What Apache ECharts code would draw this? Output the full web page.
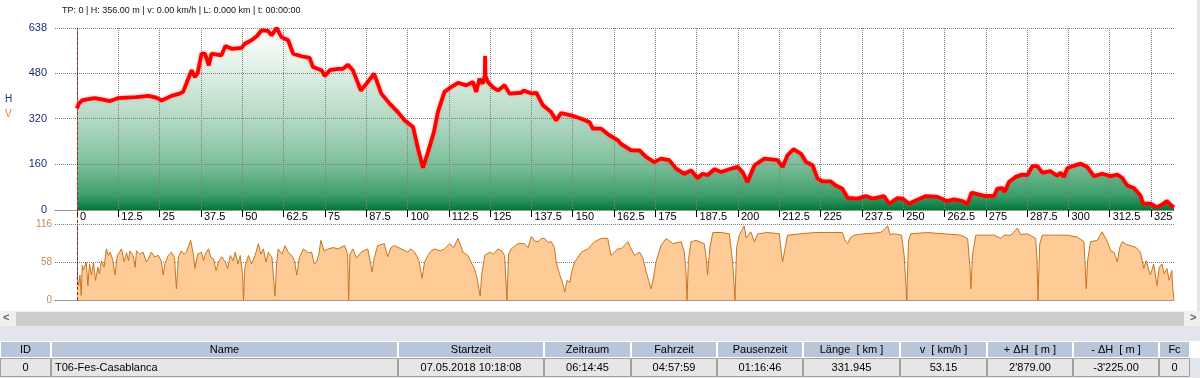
<!DOCTYPE html>
<html><head><meta charset="utf-8">
<script src="https://cdn.jsdelivr.net/npm/echarts@6/dist/echarts.min.js"></script>
<style>html,body{margin:0;padding:0;background:#fff;overflow:hidden}#c{width:1200px;height:378px}</style>
</head><body><div id="c"></div>
<script>
// ---------- data ----------
const statusText = 'TP: 0 | H: 356.00 m | v: 0.00 km/h | L: 0.000 km | t: 00:00:00';
const xTicks = [0,12.5,25,37.5,50,62.5,75,87.5,100,112.5,125,137.5,150,162.5,175,187.5,200,212.5,225,237.5,250,262.5,275,287.5,300,312.5,325];
const hTicks = [0,160,320,480,638];
const vTicks = [0,58,116];
const cursorKm = 0;

const elevKm = [0,0.5,1.5,3,5.4,7.5,10,12.3,15,18,21.6,24,25.6,28.6,31,32.1,33.1,34.7,35.7,36.5,37.7,38.7,39.9,40.7,43.7,44.9,46.8,49.8,50.8,52.8,54.5,55.8,57.8,58.9,60.4,61.9,63.9,65.4,67.9,70.4,71.4,74,75,76.5,79,80.5,82,83.5,85.9,87.6,89.9,92.1,94.6,97.1,99.2,101.7,103.2,104.7,106.2,108,109.2,111.2,113.2,115.3,117.8,119.8,120.8,121.8,122.8,123.4,123.5,123.6,124.3,125.8,127.4,129.4,130.9,134.4,135.2,137.5,139,141,143.5,145,146.5,149.5,152.6,155.1,156.1,158.6,161.1,163.6,164.6,167.7,170.2,172.2,174.7,176.7,179.2,181.3,183.8,185.8,187.8,189.3,190.8,192.9,194.9,197.4,199.9,201.4,202.9,205,208,212,213.5,215,216.8,219.1,220.6,222.6,224.1,225.6,228.1,229.6,231.6,233.2,236.2,238.7,240.7,243.2,244.2,245.8,248.3,249.8,251.8,253.3,256.9,260.4,263.4,265.4,267.9,269.5,270.7,273,275,277.5,278.5,280,280.7,282,284,286,287.6,289.1,290.6,292.1,294.6,296.6,297.6,298.6,299.7,302.7,303.7,305.7,307.7,310.2,312.8,314.8,316.3,317.8,319.8,321.8,322.6,324.8,326.8,328.3,329.8,331.3,331.95];
const elevH = [356,372,384,388,392,388,382,392,394,396,400,394,384,400,408,414,443,490,466,480,548,548,507,548,542,575,565,568,583,595,610,630,628,612,638,606,595,548,539,533,501,490,470,490,495,495,509,490,419,443,478,408,373,343,314,291,215,148,203,273,343,414,431,446,437,449,414,460,443,470,540,470,449,431,419,437,408,411,419,408,411,367,343,314,340,332,320,308,285,285,262,245,232,209,209,186,168,180,175,145,127,139,112,127,122,143,133,143,151,133,98,157,180,175,151,192,213,197,168,157,110,100,100,86,75,42,40,49,40,46,49,22,42,40,22,31,49,46,31,37,31,22,61,54,49,49,75,77,63,98,116,124,122,154,154,131,136,120,131,116,147,159,162,151,119,127,119,124,112,86,77,51,22,22,10,19,31,14,10];

const speedKm = [0,0.5,0.9,1.3,1.6,2,2.8,3.3,3.8,4.4,5,5.6,6.3,6.8,7.4,8.2,8.9,9.5,10,10.8,11.5,12.2,13.5,14.3,15,15.6,16,17,17.6,18,19,20,21,21.5,22.5,23.5,24.6,25.5,26.1,26.6,27,27.6,28.6,29.5,30.1,30.7,31.6,32.4,33.1,34.4,35.2,35.7,36.5,37.7,38.3,38.8,39.8,40.5,41.3,42.1,42.8,43.8,44.9,45.6,46.4,47.2,47.9,48.7,49.4,50.1,50.4,50.8,51.9,52.8,53.9,54.9,55.6,56.4,57.2,57.9,59,59.9,60.4,60.9,62,63,64,65,65.8,66.5,67.3,68.5,70,71,71.8,72.5,73.2,73.8,74.8,76,77.5,79,81,81.9,82.2,82.6,83.5,84.6,86,88,89.3,90,91,93,94,95,96.1,98.1,100.1,101,102.2,103.5,104.4,105.2,106.2,107.2,108.2,110,111.2,112.8,114,115.3,116.8,118.3,119.5,120.3,121.2,122,122.5,123.4,124.9,126,127.4,128.5,129.4,130.1,130.6,131.4,133.4,135.4,136.5,137.5,138.5,139.5,140.5,141.5,142.5,143.5,144.5,145,146,147,147.6,148.3,149.1,149.8,150.6,151.6,152.6,154.6,156.6,158.6,160.6,161.6,162.6,163.6,164.6,166.7,167.5,168.7,170.2,171.2,172.2,173,173.7,174.5,175.2,176.7,178.3,180.3,182.8,183.8,184.3,184.6,185,185.8,187.3,189.8,190.5,190.8,191.5,192.4,194.9,197.4,198.4,199.1,199.6,200.4,201.9,202.5,203.9,205,206,209,212.5,213.2,213.5,214.3,215,219.1,223.1,228.1,231.6,232.5,233.2,234,235.2,238.2,243.2,245.3,246,247.3,249.5,250.3,251.1,251.6,252.3,257.3,262.4,267.4,269.5,270.2,270.5,271,272,277.5,279.6,280.5,282.6,284.6,285.5,287.6,290.1,290.5,290.8,291.3,292.1,295.6,299.7,302.7,304.7,305.1,305.4,305.8,306.7,308.7,310.2,311.8,312.8,313.8,314.8,315.5,316.3,317.5,318.8,320.5,321.8,322.8,323.5,324.8,325.8,326.8,327.5,328.3,329,329.8,330.5,331.3,331.6,331.95];
const speedV = [36,22,38,7,53,46,58,22,55,38,58,30,50,40,60,50,78,68,73,62,38,68,78,58,72,60,75,68,50,75,70,73,58,62,73,66,68,60,38,55,60,68,73,65,17,66,75,70,73,91,70,48,70,73,60,70,78,65,63,45,58,66,58,48,68,60,73,55,68,40,0,50,68,55,68,86,70,78,58,73,65,6,55,78,70,83,72,68,60,38,65,78,72,73,55,58,70,91,75,78,80,78,83,70,0,70,78,64,73,78,43,65,83,86,66,80,83,78,73,78,73,60,33,58,68,75,78,75,78,86,80,94,73,68,55,48,30,6,40,68,73,70,78,75,68,0,70,78,86,86,80,97,90,89,94,94,88,89,80,58,40,25,12,30,27,45,58,65,73,78,89,94,94,68,73,78,78,89,80,68,73,65,43,30,17,35,58,83,94,86,89,73,40,0,60,89,91,86,60,38,80,103,103,101,58,0,80,99,113,95,104,89,101,103,101,70,58,80,99,101,103,103,103,90,86,95,99,101,103,113,100,101,99,68,0,90,101,103,101,99,94,50,17,70,99,99,94,99,99,110,100,101,94,60,0,85,99,99,99,96,89,50,17,60,89,91,104,89,75,73,58,80,89,85,83,80,73,48,60,38,55,22,50,55,40,48,30,45,17,0];

const tableCols = ['ID','Name','Startzeit','Zeitraum','Fahrzeit','Pausenzeit','Länge  [ km ]','v  [ km/h ]','+ ΔH  [ m ]','- ΔH  [ m ]','Fc'];
const tableRow = ['0','T06-Fes-Casablanca','07.05.2018 10:18:08','06:14:45','04:57:59','01:16:46','331.945','53.15','2\'879.00','-3\'225.00','0'];

// ---------- chart ----------
const zip = (a, b) => a.map((v, i) => [v, b[i]]);
const elevData = zip(elevKm, elevH);
const speedData = zip(speedKm, speedV);
const X_MIN = -6.65, X_MAX = 331.95;
const FONT = "'Liberation Sans', Arial, sans-serif";
const dotted = [1, 1];

const chart = echarts.init(document.getElementById('c'), null, {renderer: 'canvas'});
const option = {
  animation: false,
  backgroundColor: '#ffffff',
  grid: [
    {left: 55, right: 26, top: 28, height: 182},
    {left: 55, right: 26, top: 224, height: 76}
  ],
  xAxis: [
    {gridIndex: 0, type: 'value', min: X_MIN, max: X_MAX, z: 3,
     axisLine: {show: true, onZero: false, lineStyle: {color: '#808080', type: dotted}},
     axisTick: {show: true, customValues: xTicks, length: 7, lineStyle: {color: '#000'}},
     axisLabel: {show: true, customValues: xTicks, align: 'left', margin: 1, padding: [0,0,0,3],
                 color: '#000', fontSize: 11, fontFamily: FONT, formatter: v => String(v)},
     splitLine: {show: true, lineStyle: {color: '#808080', type: dotted}}},
    {gridIndex: 1, type: 'value', min: X_MIN, max: X_MAX,
     axisLine: {show: true, onZero: false, lineStyle: {color: '#808080', type: dotted}},
     axisTick: {show: false}, axisLabel: {show: false}, splitLine: {show: false}}
  ],
  yAxis: [
    {gridIndex: 0, type: 'value', min: hTicks[0], max: hTicks[hTicks.length - 1], interval: 160, z: 3,
     axisLine: {show: true, lineStyle: {color: '#808080'}},
     axisTick: {show: false},
     axisLabel: {color: '#1c2a7c', fontSize: 11, fontFamily: FONT, margin: 8},
     splitLine: {show: true, lineStyle: {color: '#808080', type: dotted}}},
    {gridIndex: 1, type: 'value', min: vTicks[0], max: vTicks[vTicks.length - 1], interval: 58,
     axisLine: {show: true, lineStyle: {color: '#808080'}},
     axisTick: {show: false},
     axisLabel: {color: '#c98a4e', fontSize: 10, fontFamily: FONT, margin: 3},
     splitLine: {show: true, lineStyle: {color: '#808080', type: dotted}}}
  ],
  series: [
    {name: 'Hfill', type: 'line', xAxisIndex: 0, yAxisIndex: 0, z: 1, data: elevData,
     showSymbol: false, silent: true, lineStyle: {width: 0},
     areaStyle: {opacity: 1, color: {type: 'linear', x: 0, y: 0, x2: 0, y2: 1, colorStops: [
       {offset: 0, color: '#ffffff'}, {offset: 0.25, color: '#dceee3'}, {offset: 0.5, color: '#b3d9c4'},
       {offset: 0.75, color: '#7dbf9b'}, {offset: 0.92, color: '#3d9e6a'}, {offset: 1, color: '#00763a'}]}}},
    {name: 'H', type: 'line', xAxisIndex: 0, yAxisIndex: 0, z: 5, data: elevData,
     showSymbol: false, silent: true,
     lineStyle: {color: '#ff0000', width: 3.8, shadowColor: 'rgba(255,60,60,0.45)', shadowBlur: 3},
     markLine: {symbol: 'none', silent: true, label: {show: false},
       lineStyle: {color: '#b01c1c', type: [3, 2], width: 1}, data: [{xAxis: cursorKm}]}},
    {name: 'V', type: 'line', xAxisIndex: 1, yAxisIndex: 1, z: 2, data: speedData,
     showSymbol: false, silent: true,
     lineStyle: {color: '#c8741f', width: 1},
     areaStyle: {color: '#fecb97', opacity: 1},
     markLine: {symbol: 'none', silent: true, label: {show: false},
       lineStyle: {color: '#b01c1c', type: [3, 2], width: 1}, data: [{xAxis: cursorKm}]}}
  ]
};
chart.setOption(option);

// ---------- decorations: status line, labels, scrollbar, table ----------
const g = [];
g.push({type: 'text', left: 62, top: 6, style: {text: statusText, font: "9px " + FONT, fill: '#111'}});
g.push({type: 'text', left: 5, top: 94, style: {text: 'H', font: "10px " + FONT, fill: '#1c2a7c'}});
g.push({type: 'text', left: 5, top: 109, style: {text: 'V', font: "10px " + FONT, fill: '#c98a4e'}});
g.push({type: 'rect', shape: {x: 1197, y: 0, width: 3, height: 311}, style: {fill: '#e6e6e6'}});

// cursor line through the gap between plots
const pA = chart.convertToPixel({xAxisIndex: 0, yAxisIndex: 0}, [cursorKm, 0]);
const pB = chart.convertToPixel({xAxisIndex: 1, yAxisIndex: 1}, [cursorKm, vTicks[vTicks.length - 1]]);
g.push({type: 'line', shape: {x1: Math.round(pA[0]) + 0.5, y1: pA[1], x2: Math.round(pA[0]) + 0.5, y2: pB[1]},
        style: {stroke: '#b01c1c', lineWidth: 1, lineDash: [3, 2]}, z: 10});

// scrollbar
g.push({type: 'rect', shape: {x: 0, y: 311, width: 1200, height: 15}, style: {fill: '#f0f0f0'}});
g.push({type: 'rect', shape: {x: 16, y: 312, width: 1168, height: 14}, style: {fill: '#cdcdcd'}});
g.push({type: 'text', left: 3, top: 312, style: {text: '<', font: "bold 11px " + FONT, fill: '#606060'}});
g.push({type: 'text', left: 1190, top: 312, style: {text: '>', font: "bold 11px " + FONT, fill: '#606060'}});
g.push({type: 'rect', shape: {x: 0, y: 326, width: 1200, height: 15}, style: {fill: '#e3e5ea'}});

// table
const colEdges = [0, 51, 398, 544, 631, 717, 803, 900, 987, 1073, 1159, 1190];
const hy = 341, hh = 17, ry = 358, rh = 19;
const TFONT = "11px 'Liberation Sans Narrow', 'Liberation Sans', Arial, sans-serif";
g.push({type: 'rect', shape: {x: 0, y: 358, width: 1200, height: 20}, style: {fill: '#e3e5ea'}});
for (let i = 0; i < tableCols.length; i++) {
  const x0 = colEdges[i], x1 = colEdges[i + 1];
  g.push({type: 'rect', shape: {x: x0 + 0.5, y: hy + 0.5, width: x1 - x0 - 1, height: hh - 1},
          style: {fill: '#b8c6da', stroke: '#ffffff', lineWidth: 1}});
  g.push({type: 'text', x: (x0 + x1) / 2, y: hy + hh / 2,
          style: {text: tableCols[i], font: TFONT, fill: '#000', align: 'center', verticalAlign: 'middle'}});
  g.push({type: 'rect', shape: {x: x0 + 0.5, y: ry + 0.5, width: x1 - x0 - 1, height: rh - 1},
          style: {fill: '#e6e6e6', stroke: '#a0a0a0', lineWidth: 1}});
  const left = i === 1;
  g.push({type: 'text', x: left ? x0 + 4 : (x0 + x1) / 2, y: ry + rh / 2,
          style: {text: tableRow[i], font: TFONT, fill: '#000', align: left ? 'left' : 'center', verticalAlign: 'middle'}});
}
chart.setOption({graphic: g});
</script>
</body></html>
